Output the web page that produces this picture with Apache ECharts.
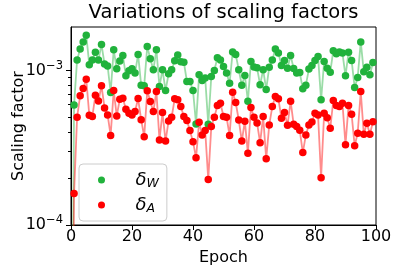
<!DOCTYPE html>
<html><head><meta charset="utf-8">
<script src="https://cdn.jsdelivr.net/npm/echarts@6/dist/echarts.min.js"></script>
<style>html,body{margin:0;padding:0;background:#fff}#c{width:399px;height:274px}</style>
</head><body><div id="c"></div>
<script>
const epochs = [0,1,2,3,4,5,6,7,8,9,10,11,12,13,14,15,16,17,18,19,20,21,22,23,24,25,26,27,28,29,30,31,32,33,34,35,36,37,38,39,40,41,42,43,44,45,46,47,48,49,50,51,52,53,54,55,56,57,58,59,60,61,62,63,64,65,66,67,68,69,70,71,72,73,74,75,76,77,78,79,80,81,82,83,84,85,86,87,88,89,90,91,92,93,94,95,96,97,98,99];
const deltaW = [1e-6,5.98e-4,1.17e-3,1.375e-3,1.53e-3,1.69e-3,1.09e-3,1.17e-3,1.31e-3,1.17e-3,
1.47e-3,1.10e-3,1.07e-3,0.72e-3,1.36e-3,1.025e-3,1.15e-3,1.25e-3,0.923e-3,0.995e-3,
1.025e-3,0.961e-3,1.27e-3,0.803e-3,0.795e-3,1.43e-3,1.19e-3,1.01e-3,1.36e-3,0.787e-3,
1.01e-3,0.742e-3,0.951e-3,1.01e-3,1.155e-3,1.26e-3,1.14e-3,1.13e-3,0.848e-3,0.848e-3,
0.742e-3,0.451e-3,0.937e-3,0.861e-3,0.892e-3,0.449e-3,0.914e-3,1.0e-3,1.21e-3,1.17e-3,
1.06e-3,0.961e-3,0.827e-3,1.315e-3,1.27e-3,1.01e-3,0.803e-3,0.928e-3,0.632e-3,1.144e-3,
1.051e-3,1.04e-3,0.807e-3,1.01e-3,0.753e-3,1.05e-3,1.17e-3,1.375e-3,1.296e-3,1.078e-3,
1.16e-3,1.035e-3,1.25e-3,1.03e-3,0.961e-3,0.97e-3,0.76e-3,0.803e-3,1.02e-3,1.078e-3,
1.16e-3,1.23e-3,0.645e-3,1.144e-3,1.035e-3,0.975e-3,1.342e-3,1.283e-3,1.315e-3,1.296e-3,
0.923e-3,1.31e-3,1.16e-3,0.776e-3,0.901e-3,1.53e-3,0.98e-3,1.05e-3,0.937e-3,1.127e-3];
const deltaA = [1e-6,1.6e-4,0.498e-3,0.685e-3,0.764e-3,0.878e-3,0.513e-3,0.503e-3,0.692e-3,0.635e-3,
0.795e-3,0.572e-3,0.515e-3,0.380e-3,0.741e-3,0.508e-3,0.651e-3,0.661e-3,0.561e-3,0.528e-3,
0.515e-3,0.542e-3,0.658e-3,0.48e-3,0.373e-3,0.738e-3,0.629e-3,0.542e-3,0.731e-3,0.355e-3,
0.534e-3,0.349e-3,0.471e-3,0.498e-3,0.655e-3,0.645e-3,0.584e-3,0.503e-3,0.474e-3,0.408e-3,
0.346e-3,0.272e-3,0.462e-3,0.382e-3,0.408e-3,0.197e-3,0.433e-3,0.498e-3,0.593e-3,0.614e-3,
0.503e-3,0.498e-3,0.380e-3,0.723e-3,0.620e-3,0.478e-3,0.349e-3,0.469e-3,0.291e-3,0.575e-3,
0.498e-3,0.457e-3,0.341e-3,0.503e-3,0.268e-3,0.444e-3,0.584e-3,0.678e-3,0.655e-3,0.490e-3,
0.534e-3,0.442e-3,0.632e-3,0.448e-3,0.433e-3,0.410e-3,0.294e-3,0.382e-3,0.444e-3,0.464e-3,
0.528e-3,0.515e-3,0.202e-3,0.528e-3,0.495e-3,0.422e-3,0.639e-3,0.593e-3,0.584e-3,0.614e-3,
0.331e-3,0.593e-3,0.521e-3,0.326e-3,0.392e-3,0.731e-3,0.386e-3,0.455e-3,0.386e-3,0.466e-3];
const xTicks = [0,20,40,60,80,100];
const yMajorTicks = [1e-4,1e-3];
const yMinorTicks = [2e-4,3e-4,4e-4,5e-4,6e-4,7e-4,8e-4,9e-4];
const seriesNames = ['δW','δA'];

const FONT = 'DejaVu Sans';
const GREEN = '#21b23c', RED = '#ff0000';
const chart = echarts.init(document.getElementById('c'), null, {renderer:'canvas'});
const pairs = (vals) => epochs.map((e,i)=>[e, vals[i]]);
chart.setOption({
  animation:false,
  backgroundColor:'#fff',
  textStyle:{fontFamily:FONT},
  title:{text:'Variations of scaling factors', left:223.5, top:3, padding:0, textAlign:'center',
    textStyle:{fontFamily:FONT, fontSize:19.5, fontWeight:'normal', color:'#000'}},
  grid:{left:71, top:27, width:305, height:198, containLabel:false, outerBoundsMode:'none',
    show:true, borderColor:'#000', borderWidth:1, backgroundColor:'transparent'},
  legend:{orient:'vertical', left:79, top:164, padding:[6,8,6,19], itemGap:5, itemWidth:20, itemHeight:7,
    icon:'circle', backgroundColor:'rgba(255,255,255,0.8)', borderColor:'#ccc', borderWidth:1, borderRadius:4,
    data:seriesNames,
    formatter:(n)=> '{d|δ}{s|' + n.slice(1) + '}',
    textStyle:{rich:{
      d:{fontFamily:FONT, fontStyle:'italic', fontSize:18, color:'#000', padding:[0,0,0,19], lineHeight:20},
      s:{fontFamily:FONT, fontStyle:'italic', fontSize:12.5, color:'#000', padding:[7,0,0,0], lineHeight:20}
    }}},
  xAxis:{type:'value', min:0, max:100, interval:20,
    axisLine:{show:true, lineStyle:{color:'#000', width:1}},
    axisTick:{show:true, length:5, lineStyle:{color:'#000'}, customValues:xTicks},
    axisLabel:{color:'#000', fontSize:16, fontFamily:FONT, margin:4, customValues:xTicks},
    splitLine:{show:false},
    name:'Epoch', nameLocation:'middle', nameGap:24, nameTextStyle:{color:'#000', fontSize:16, fontFamily:FONT}},
  yAxis:[{type:'log', logBase:10, min:1e-4, max:1.91e-3,
    axisLine:{show:true, lineStyle:{color:'#000', width:1}},
    axisTick:{show:true, length:5, lineStyle:{color:'#000'}, customValues:yMajorTicks},
    axisLabel:{color:'#000', margin:8, customValues:yMajorTicks,
      formatter:(v)=>{const e=Math.round(Math.log10(v)); return '{b|10}{e|−'+(-e)+'}';},
      rich:{b:{fontSize:16, fontFamily:FONT, color:'#000'}, e:{fontSize:11.5, fontFamily:FONT, color:'#000', padding:[0,0,9,0]}}},
    splitLine:{show:false}, minorTick:{show:false},
    name:'Scaling factor', nameLocation:'middle', nameGap:44, nameRotate:90, nameMoveOverlap:false,
    nameTextStyle:{color:'#000', fontSize:16, fontFamily:FONT}},
   {type:'log', logBase:10, min:1e-4, max:1.91e-3, position:'left',
    axisLine:{show:false}, axisLabel:{show:false}, splitLine:{show:false},
    axisTick:{show:true, length:3, lineStyle:{color:'#000'}, customValues:yMinorTicks}}],
  series:[
    {name:seriesNames[0], type:'line', data:pairs(deltaW), symbol:'circle', symbolSize:7.5, clip:true,
     itemStyle:{color:GREEN}, lineStyle:{color:GREEN, width:1.8, opacity:0.45}, emphasis:{disabled:true}},
    {name:seriesNames[1], type:'line', data:pairs(deltaA), symbol:'circle', symbolSize:7.5, clip:true,
     itemStyle:{color:RED}, lineStyle:{color:RED, width:1.8, opacity:0.45}, emphasis:{disabled:true}}
  ]
});
</script></body></html>
